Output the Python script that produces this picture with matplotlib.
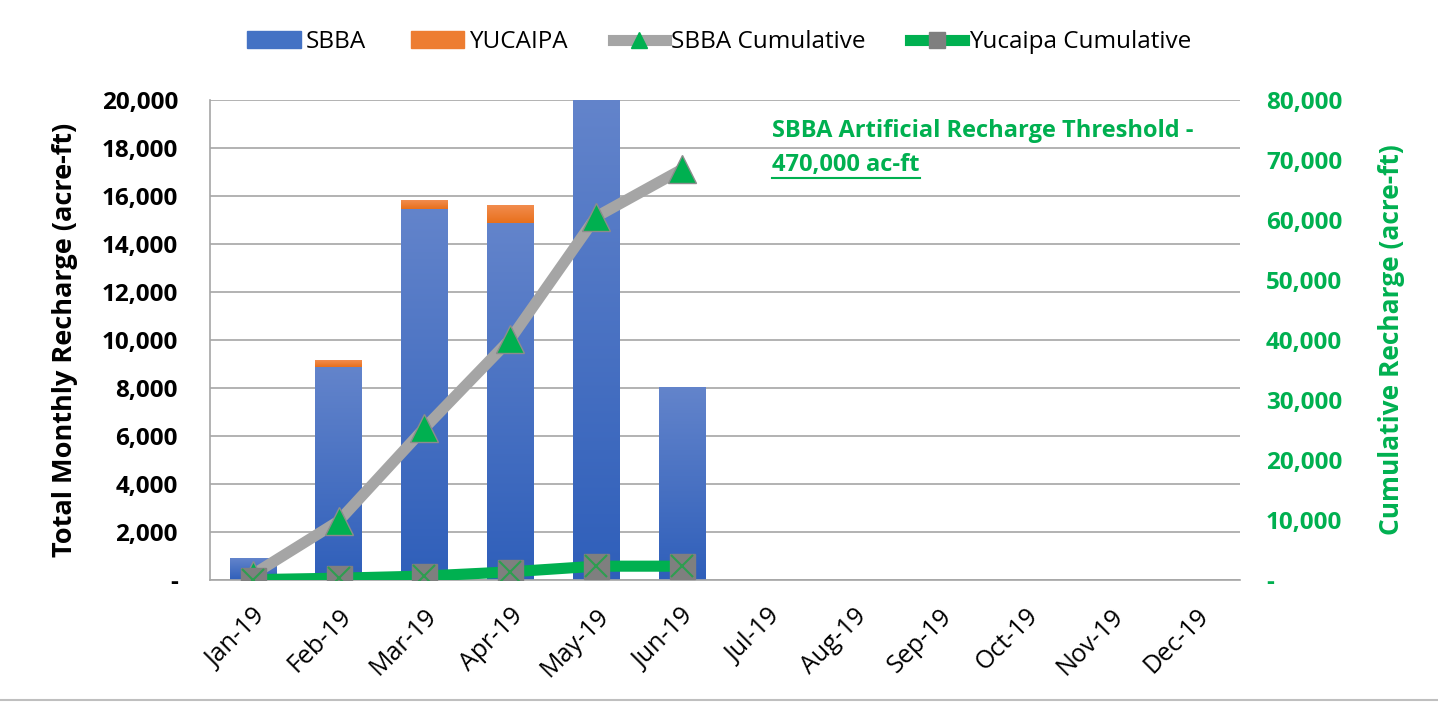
import matplotlib

matplotlib.use("Agg")
import matplotlib.pyplot as plt
import numpy as np
from matplotlib.colors import LinearSegmentedColormap
from matplotlib.lines import Line2D

plt.rcParams["font.family"] = ["Open Sans", "DejaVu Sans"]

# Data (acre-ft)
months = ["Jan-19", "Feb-19", "Mar-19", "Apr-19", "May-19", "Jun-19",
          "Jul-19", "Aug-19", "Sep-19", "Oct-19", "Nov-19", "Dec-19"]
sbba = [880, 8870, 15460, 14860, 20500, 8000, 0, 0, 0, 0, 0, 0]
yucaipa = [0, 250, 370, 720, 900, 0, 0, 0, 0, 0, 0, 0]
sbba_cum = [900, 9800, 25300, 40100, 60500, 68400]
yucaipa_cum = [50, 300, 650, 1350, 2300, 2300]
left_ticks = list(range(0, 20001, 2000))
right_ticks = list(range(0, 80001, 10000))

GREEN = "#00B050"
GRID = "#A6A6A6"
YMAX = 20000


def fmt_acct(v):
    return "-" if v == 0 else f"{v:,.0f}"


def gradient_bars(ax, bars, top_color, bottom_color):
    cmap = LinearSegmentedColormap.from_list("g", [bottom_color, top_color])
    grad = np.linspace(0, 1, 256).reshape(-1, 1)
    for b in bars:
        x, y = b.get_x(), b.get_y()
        w, h = b.get_width(), b.get_height()
        top = min(y + h, YMAX)
        if h <= 0 or top <= y:
            continue
        b.set_facecolor("none")
        ax.imshow(grad, cmap=cmap, origin="lower", aspect="auto",
                  extent=[x, x + w, y, top], zorder=2)


fig = plt.figure(figsize=(14.38, 7.03), dpi=100)
ax = fig.add_axes([0.146, 0.175, 0.716, 0.683])
x = np.arange(len(months))
width = 0.54

b1 = ax.bar(x, sbba, width, color="#4472C4", zorder=2, linewidth=0)
b2 = ax.bar(x, yucaipa, width, bottom=sbba, color="#ED7D31", zorder=2, linewidth=0)
gradient_bars(ax, b1, "#6384CB", "#2F5FBA")
gradient_bars(ax, b2, "#F28C4E", "#E8701C")

ax.set_xlim(-0.5, len(months) - 0.5)
ax.set_ylim(0, YMAX)
ax.set_yticks(left_ticks, [fmt_acct(v) for v in left_ticks],
              fontsize=17.5, fontweight="bold")
ax.grid(axis="y", color=GRID, lw=1.2, zorder=0)
ax.set_axisbelow(True)
for s in ["top", "right"]:
    ax.spines[s].set_visible(False)
for s in ["left", "bottom"]:
    ax.spines[s].set_color(GRID)
    ax.spines[s].set_linewidth(1.2)
ax.tick_params(axis="both", length=0)
ax.tick_params(axis="y", pad=23)
ax.set_xticks(x, months, rotation=45, ha="right", rotation_mode="anchor",
              fontsize=18)
ax.tick_params(axis="x", pad=17)
ax.set_ylabel("Total Monthly Recharge (acre-ft)", fontsize=19.5,
              fontweight="bold", labelpad=17)

ax2 = ax.twinx()
ax2.set_ylim(0, 80000)
ax2.set_yticks(right_ticks, [fmt_acct(v) for v in right_ticks],
               fontsize=17.5, fontweight="bold", color=GREEN)
for s in ax2.spines.values():
    s.set_visible(False)
ax2.tick_params(axis="y", length=0, pad=19)
ax2.set_ylabel("Cumulative Recharge (acre-ft)", fontsize=19,
               fontweight="bold", color=GREEN, labelpad=26)

xc = x[:len(sbba_cum)]
ax2.plot(xc, sbba_cum, color="#A5A5A5", lw=8, solid_capstyle="round", zorder=3)
ax2.plot(xc, sbba_cum, ls="none", marker="^", ms=20, mfc=GREEN,
         mec="#8C8C8C", mew=1, zorder=4)
ax2.plot(xc, yucaipa_cum, color=GREEN, lw=8, solid_capstyle="round", zorder=3)
ax2.plot(xc, yucaipa_cum, ls="none", marker="s", ms=18, mfc="#7F7F7F",
         mec="#7F7F7F", zorder=4)
ax2.plot(xc, yucaipa_cum, ls="none", marker="x", ms=16, mec="#2E9E50",
         mew=1.5, zorder=5)

ax2.text(0.546, 0.935, "SBBA Artificial Recharge Threshold -",
         transform=ax2.transAxes, color=GREEN, fontsize=17, fontweight="bold",
         va="center", ha="left")
t2 = ax2.text(0.546, 0.865, "470,000 ac-ft", transform=ax2.transAxes,
              color=GREEN, fontsize=17, fontweight="bold", va="center",
              ha="left")

handles = [
    plt.Rectangle((0, 0), 1, 1, color="#4472C4"),
    plt.Rectangle((0, 0), 1, 1, color="#ED7D31"),
    Line2D([], [], color="#A5A5A5", lw=8, marker="^", ms=12, mfc=GREEN,
           mec=GREEN),
    Line2D([], [], color=GREEN, lw=8, marker="s", ms=12, mfc="#7F7F7F",
           mec="#7F7F7F"),
]
fig.legend(handles, ["SBBA", "YUCAIPA", "SBBA Cumulative", "Yucaipa Cumulative"],
           loc="center", bbox_to_anchor=(0.5, 0.94), ncol=4, frameon=False,
           fontsize=17.5, handlelength=2.2, handleheight=0.7, handletextpad=0.2,
           columnspacing=1.85)

# underline the threshold value
fig.canvas.draw()
bb = t2.get_window_extent()
inv = fig.transFigure.inverted()
(x0, y0), (x1, _) = inv.transform([(bb.x0, bb.y0 - 1), (bb.x1, bb.y0 - 1)])
fig.add_artist(Line2D([x0, x1], [y0, y0], color=GREEN, lw=1.5,
                      transform=fig.transFigure))

fig.add_artist(Line2D([0, 1], [0.004, 0.004], color="#BFBFBF", lw=1.5,
                      transform=fig.transFigure))

fig.savefig("out.png", dpi=100)
